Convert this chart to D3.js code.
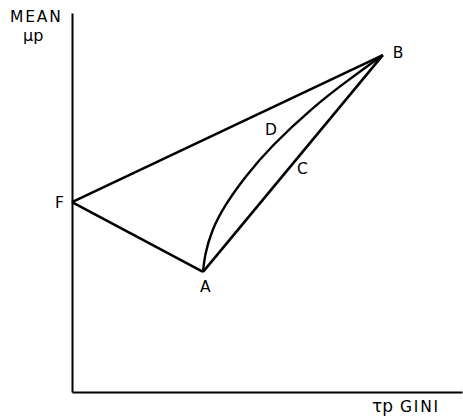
<!DOCTYPE html>
<html>
<head>
<meta charset="utf-8">
<script src="https://cdn.jsdelivr.net/npm/d3@7"></script>
<style>
  body { margin: 0; background: #fff; }
  svg text { font-family: "DejaVu Sans", sans-serif; font-size: 15.5px; fill: #000; }
</style>
</head>
<body>
<div id="chart"></div>
<script>
// points (gini on x, mean on y, 0..100 units)
const pointNames = ["F", "A", "B"];
const pointX = [0, 33.6, 79.7];
const pointY = [50.1, 31.7, 88.9];

// straight segments between named points
const segments = [["F", "B"], ["F", "A"], ["A", "B"]];

// curved frontier A -> D -> B
const curveX = [33.6, 34.0, 35.8, 39.2, 44.2, 51.0, 61.8, 70.8, 79.7];
const curveY = [31.7, 36.0, 42.7, 49.3, 56.6, 64.8, 75.2, 82.3, 88.9];

const width = 463,
  height = 419;

const svg = d3.select("#chart")
  .append("svg")
  .attr("width", width)
  .attr("height", height);

const x = d3.scaleLinear().domain([0, 100]).range([72, 462]);
const y = d3.scaleLinear().domain([0, 100]).range([392, 13]);

// axes: plain lines, no ticks
svg.append("g")
  .attr("transform", `translate(0,${y(0)})`)
  .call(d3.axisBottom(x).tickValues([]).tickSizeOuter(0))
  .select(".domain")
  .attr("stroke-width", 2);

svg.append("g")
  .attr("transform", `translate(${x(0)},0)`)
  .call(d3.axisLeft(y).tickValues([]).tickSizeOuter(0))
  .select(".domain")
  .attr("stroke-width", 2);

const pts = {};
pointNames.forEach((n, i) => pts[n] = [pointX[i], pointY[i]]);

const line = d3.line().x(d => x(d[0])).y(d => y(d[1]));

svg.append("g")
  .selectAll("path")
  .data(segments)
  .join("path")
  .attr("d", d => line([pts[d[0]], pts[d[1]]]))
  .attr("fill", "none")
  .attr("stroke", "#000")
  .attr("stroke-width", 2.6)
  .attr("stroke-linejoin", "miter");

const curvePts = curveX.map((v, i) => [v, curveY[i]]);
svg.append("path")
  .datum(curvePts)
  .attr("d", line.curve(d3.curveBasis))
  .attr("fill", "none")
  .attr("stroke", "#000")
  .attr("stroke-width", 2.4);

// point labels, offset from their vertices
const labelOffsets = { F: [-17, 6], A: [-3, 20], B: [10, 3] };
svg.append("g")
  .selectAll("text")
  .data(pointNames)
  .join("text")
  .attr("x", d => x(pts[d][0]) + labelOffsets[d][0])
  .attr("y", d => y(pts[d][1]) + labelOffsets[d][1])
  .text(d => d);

// curve labels
svg.append("text").attr("x", 265).attr("y", 135).text("D");
svg.append("text").attr("x", 297).attr("y", 174).text("C");

// axis titles
svg.append("text").attr("x", 10).attr("y", 22).attr("letter-spacing", 1.8).text("MEAN");
svg.append("text").attr("x", 23).attr("y", 41).style("font-size", "16px").text("μp");
svg.append("text").attr("x", 372).attr("y", 412).style("font-size", "17px").text("τp");
svg.append("text").attr("x", 400).attr("y", 412).attr("letter-spacing", 1.8).text("GINI");
</script>
</body>
</html>
